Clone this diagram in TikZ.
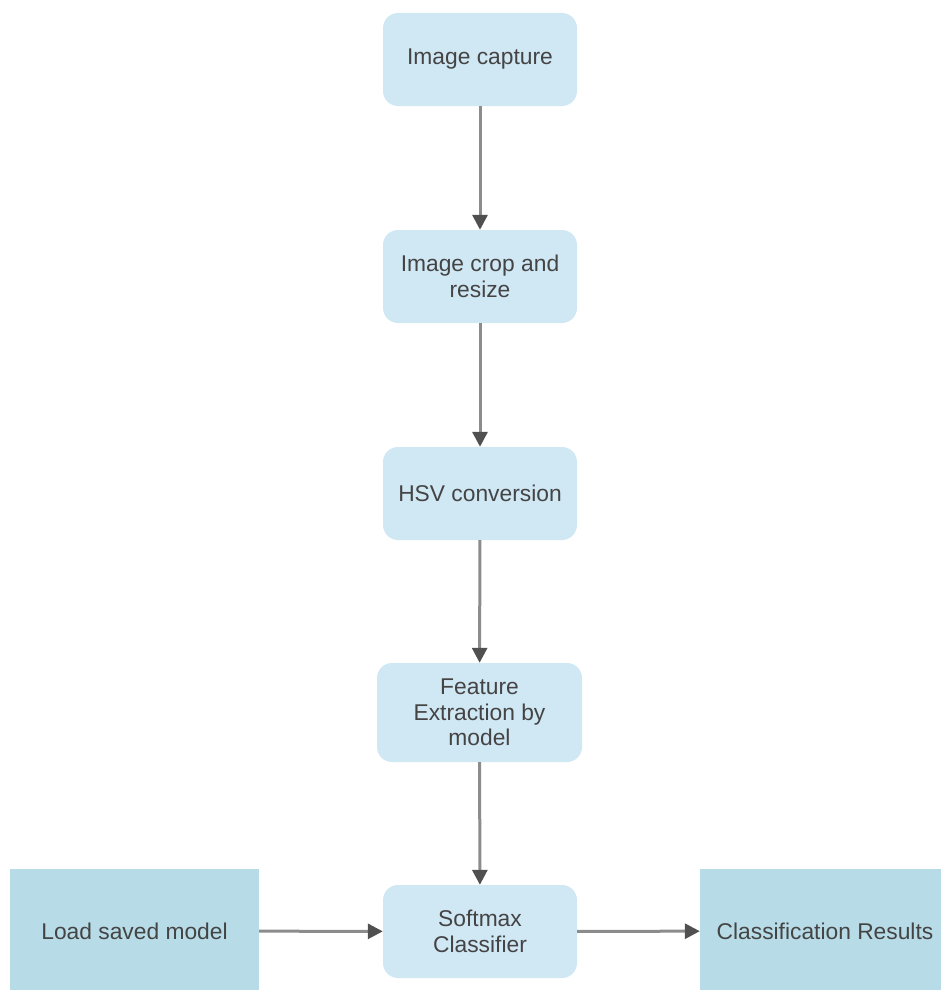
\documentclass[tikz,border=0pt]{standalone}
\usepackage{fontspec}
\setmainfont{Liberation Sans}
\usetikzlibrary{arrows.meta}
\definecolor{roundfill}{RGB}{208,231,244}
\definecolor{squarefill}{RGB}{183,220,231}
\definecolor{txt}{RGB}{68,68,68}
\definecolor{linec}{RGB}{140,140,140}
\definecolor{headc}{RGB}{80,80,80}
\begin{document}
\begin{tikzpicture}[x=1pt,y=-1pt,
  every node/.style={font=\fontsize{22.8}{25.5}\selectfont, text=txt, align=center, inner sep=0pt},
  roundbox/.style={fill=roundfill, rounded corners=15pt, minimum width=194pt, minimum height=93pt},
  squarebox/.style={fill=squarefill, minimum width=249pt, minimum height=124pt},
  flow/.style={draw=linec, line width=3pt, -{Triangle[width=15pt,length=15pt,color=headc]}}
]
\useasboundingbox (0,0) rectangle (940,990);
\node[roundbox] (cap) at (480,59.5) {Image capture};
\node[roundbox] (crop) at (480,276.5) {Image crop and\\resize};
\node[roundbox] (hsv) at (480,493.5) {HSV conversion};
\node[roundbox, minimum width=205pt, minimum height=99pt] (feat) at (479.5,712.5) {Feature\\Extraction by\\model};
\node[roundbox] (soft) at (480,931.5) {Softmax\\Classifier};
\node[squarebox] (load) at (134.5,931) {Load saved model};
\node[squarebox, minimum width=250pt] (res) at (825,931) {Classification Results};
\draw[flow] (cap) -- (crop);
\draw[flow] (crop) -- (hsv);
\draw[flow] (hsv) -- (feat);
\draw[flow] (feat) -- (soft);
\draw[flow] (load) -- (soft);
\draw[flow] (soft) -- (res);
\end{tikzpicture}
\end{document}
